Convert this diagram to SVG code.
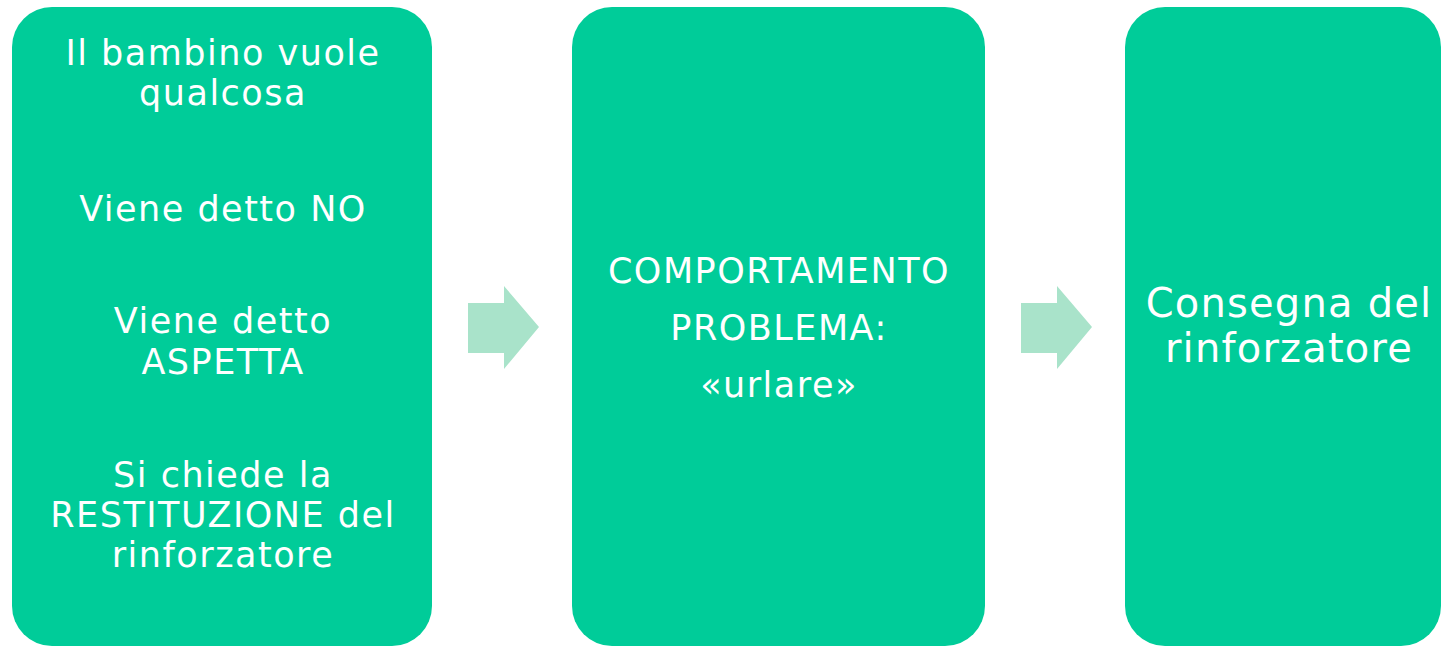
<svg xmlns="http://www.w3.org/2000/svg" width="1441" height="646" viewBox="0 0 1441 646">
<style>
.box{fill:#00CC99}
.arr{fill:#A9E3CA}
text{font-family:Verdana,"DejaVu Sans",sans-serif;fill:#FFFFFF;text-anchor:middle}
.t1{font-size:35px;letter-spacing:1.5px}
.t3{font-size:40px;letter-spacing:1.2px}
</style>
<g id="node1">
<rect class="box" x="12" y="7" width="420" height="639" rx="40" ry="40"/>
<text class="t1" x="223" y="65">Il bambino vuole</text>
<text class="t1" x="223" y="105">qualcosa</text>
<text class="t1" x="223" y="221">Viene detto NO</text>
<text class="t1" x="223" y="333">Viene detto</text>
<text class="t1" x="223" y="374">ASPETTA</text>
<text class="t1" x="223" y="487">Si chiede la</text>
<text class="t1" x="223" y="527">RESTITUZIONE del</text>
<text class="t1" x="223" y="567">rinforzatore</text>
</g>
<g id="node2">
<rect class="box" x="572" y="7" width="413" height="639" rx="40" ry="40"/>
<text class="t1" x="779" y="283">COMPORTAMENTO</text>
<text class="t1" x="779" y="340">PROBLEMA:</text>
<text class="t1" x="779" y="397">«urlare»</text>
</g>
<g id="node3">
<rect class="box" x="1125" y="7" width="316" height="639" rx="40" ry="40"/>
<text class="t3" x="1289" y="317">Consegna del</text>
<text class="t3" x="1289" y="362">rinforzatore</text>
</g>
<g id="connectors">
<polygon class="arr" points="468,303 504,303 504,286 539,327 504,369 504,353 468,353"/>
<polygon class="arr" points="1021,303 1057,303 1057,286 1092,327 1057,369 1057,353 1021,353"/>
</g>
</svg>
